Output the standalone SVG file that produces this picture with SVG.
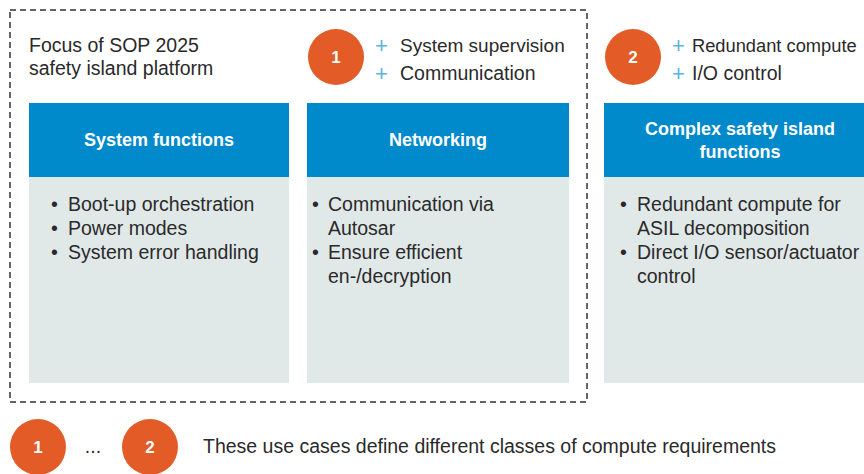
<svg xmlns="http://www.w3.org/2000/svg" width="864" height="474" viewBox="0 0 864 474">
<style>
.t{font-family:"Liberation Sans",Arial,sans-serif;font-size:19.5px;fill:#2a2a2a}
.h{font-family:"Liberation Sans",Arial,sans-serif;font-size:18px;font-weight:bold;fill:#ffffff;text-anchor:middle}
.n{font-family:"Liberation Sans",Arial,sans-serif;font-size:17px;font-weight:bold;fill:#ffffff;text-anchor:middle}
.p{font-family:"Liberation Sans",Arial,sans-serif;font-size:22px;fill:#5ab6de}
.hd{fill:#0089cb}
.bd{fill:#e0e8e8}
.c{fill:#e35b26}
</style>
<rect width="864" height="474" fill="#ffffff"/>
<g id="focus-frame">
<rect x="10" y="10" width="577" height="392" fill="none" stroke="#333333" stroke-width="1.5" stroke-dasharray="6,4"/>
<text class="t" x="29" y="52">Focus of SOP 2025</text>
<text class="t" x="29" y="75">safety island platform</text>
</g>
<g id="use-case-1">
<circle class="c" cx="336" cy="57" r="28"/>
<text class="n" x="336" y="63">1</text>
<text class="p" x="375" y="53">+</text>
<text class="t" x="400" y="52" style="font-size:19px">System supervision</text>
<text class="p" x="375" y="81">+</text>
<text class="t" x="400" y="80">Communication</text>
</g>
<g id="use-case-2">
<circle class="c" cx="633" cy="57" r="28"/>
<text class="n" x="633" y="63">2</text>
<text class="p" x="672" y="53">+</text>
<text class="t" x="692" y="52" style="font-size:18.3px">Redundant compute</text>
<text class="p" x="672" y="81">+</text>
<text class="t" x="692" y="80">I/O control</text>
</g>
<g id="system-functions">
<rect class="hd" x="29" y="103" width="260" height="74"/>
<rect class="bd" x="29" y="177" width="260" height="206"/>
<text class="h" x="159" y="146">System functions</text>
<text class="t" x="51" y="211">•</text><text class="t" x="68" y="211">Boot-up orchestration</text>
<text class="t" x="51" y="235">•</text><text class="t" x="68" y="235">Power modes</text>
<text class="t" x="51" y="259">•</text><text class="t" x="68" y="259">System error handling</text>
</g>
<g id="networking">
<rect class="hd" x="307" y="103" width="262" height="74"/>
<rect class="bd" x="307" y="177" width="262" height="206"/>
<text class="h" x="438" y="146">Networking</text>
<text class="t" x="312" y="211">•</text><text class="t" x="328" y="211">Communication via</text>
<text class="t" x="328" y="235">Autosar</text>
<text class="t" x="312" y="259">•</text><text class="t" x="328" y="259">Ensure efficient</text>
<text class="t" x="328" y="283">en-/decryption</text>
</g>
<g id="complex-safety">
<rect class="hd" x="604" y="103" width="272" height="74"/>
<rect class="bd" x="604" y="177" width="272" height="206"/>
<text class="h" x="740" y="135">Complex safety island</text>
<text class="h" x="740" y="158">functions</text>
<text class="t" x="620" y="211">•</text><text class="t" x="637" y="211">Redundant compute for</text>
<text class="t" x="637" y="235">ASIL decomposition</text>
<text class="t" x="620" y="259">•</text><text class="t" x="637" y="259">Direct I/O sensor/actuator</text>
<text class="t" x="637" y="283">control</text>
</g>
<g id="legend">
<circle class="c" cx="38" cy="447" r="28"/>
<text class="n" x="38" y="453">1</text>
<text class="t" x="93" y="453" text-anchor="middle">...</text>
<circle class="c" cx="150" cy="447" r="28"/>
<text class="n" x="150" y="453">2</text>
<text class="t" x="203" y="453">These use cases define different classes of compute requirements</text>
</g>
<g id="connectors"></g>
</svg>
